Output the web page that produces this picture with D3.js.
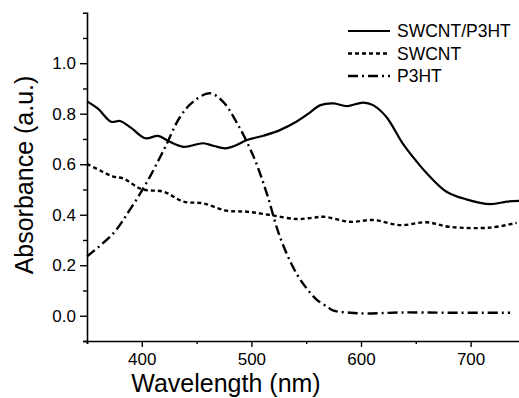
<!DOCTYPE html>
<html>
<head>
<meta charset="utf-8">
<script src="https://cdn.jsdelivr.net/npm/d3@7"></script>
<style>
  html, body { margin: 0; padding: 0; background: #fff; }
  svg { display: block; font-family: "Liberation Sans", Arial, sans-serif; }
</style>
</head>
<body>
<script>
// wavelength (nm) / absorbance (a.u.)
const hybridWl = [350, 360, 372, 380, 390, 403, 415, 425, 438, 456, 466, 476, 486, 496, 511, 526, 541, 552, 563, 575, 587, 602, 611, 623, 638, 650, 660, 678, 696, 718, 733, 745];
const hybridAbs = [0.849, 0.82, 0.768, 0.771, 0.745, 0.703, 0.712, 0.69, 0.669, 0.683, 0.672, 0.663, 0.675, 0.696, 0.713, 0.735, 0.768, 0.80, 0.834, 0.841, 0.830, 0.844, 0.834, 0.788, 0.683, 0.615, 0.564, 0.491, 0.461, 0.442, 0.452, 0.455];

const swcntWl = [350, 362, 374, 383, 400, 420, 438, 456, 477, 496, 517, 541, 556, 566, 590, 611, 636, 660, 681, 718, 742];
const swcntAbs = [0.601, 0.575, 0.551, 0.544, 0.501, 0.491, 0.452, 0.445, 0.416, 0.412, 0.399, 0.383, 0.388, 0.392, 0.372, 0.379, 0.359, 0.370, 0.352, 0.349, 0.368];

const p3htWl = [350, 374, 389, 404, 420, 435, 447, 462, 474, 487, 502, 514, 526, 541, 554, 560, 569, 575, 590, 605, 636, 681, 736];
const p3htAbs = [0.235, 0.326, 0.419, 0.524, 0.656, 0.788, 0.848, 0.881, 0.848, 0.762, 0.630, 0.485, 0.313, 0.168, 0.089, 0.062, 0.036, 0.020, 0.012, 0.009, 0.013, 0.012, 0.012];

const seriesNames = ["SWCNT/P3HT", "SWCNT", "P3HT"];
const dashes = [null, "4,3", "10,4,2,4"];

const xMajor = [400, 500, 600, 700];
const xMinor = [350, 450, 550, 650, 750];
const yMajor = [0.0, 0.2, 0.4, 0.6, 0.8, 1.0];
const yMinor = [-0.1, 0.1, 0.3, 0.5, 0.7, 0.9, 1.1];

const W = 519, H = 398;
const svg = d3.select("body").append("svg").attr("width", W).attr("height", H);

const x = d3.scaleLinear().domain([350, 750]).range([87, 525.4]);
const y = d3.scaleLinear().domain([-0.1, 1.2]).range([341, 12.7]);

const series = [
  hybridWl.map((d, i) => [d, hybridAbs[i]]),
  swcntWl.map((d, i) => [d, swcntAbs[i]]),
  p3htWl.map((d, i) => [d, p3htAbs[i]]),
];

// axes
const xAxis = svg.append("g").attr("transform", `translate(0,${y(-0.1)})`);
xAxis.call(d3.axisBottom(x).tickValues(xMajor).tickSize(6).tickFormat(d3.format("d")));
xAxis.append("g").call(d3.axisBottom(x).tickValues(xMinor).tickSize(3).tickFormat(""));

const yAxis = svg.append("g").attr("transform", `translate(${x(350)},0)`);
yAxis.call(d3.axisLeft(y).tickValues(yMajor).tickSize(7).tickFormat(d3.format(".1f")));
yAxis.append("g").call(d3.axisLeft(y).tickValues(yMinor).tickSize(4).tickFormat(""));

svg.selectAll(".domain").attr("stroke", "#000").attr("stroke-width", 1.6);
svg.selectAll(".tick line").attr("stroke", "#000").attr("stroke-width", 1.4);
svg.selectAll(".tick text").attr("fill", "#000").style("font-size", "17px")
  .style("font-family", "'Liberation Sans', Arial, sans-serif");
xAxis.selectAll(".tick text").attr("dy", "0.71em").attr("y", 12);
yAxis.selectAll(".tick text").attr("x", -11);
// hide the domain of the minor tick groups
xAxis.select("g .domain").remove();
yAxis.select("g .domain").remove();

// axis titles
svg.append("text")
  .attr("x", 226).attr("y", 392)
  .attr("text-anchor", "middle")
  .style("font-size", "25px")
  .text("Wavelength (nm)");

svg.append("text")
  .attr("transform", "translate(33,175) rotate(-90)")
  .attr("text-anchor", "middle")
  .style("font-size", "25px")
  .text("Absorbance (a.u.)");

// curves
const line = d3.line()
  .x((d) => x(d[0]))
  .y((d) => y(d[1]))
  .curve(d3.curveCatmullRom.alpha(0.5));

svg.append("g")
  .selectAll("path")
  .data(series)
  .join("path")
  .attr("d", line)
  .attr("fill", "none")
  .attr("stroke", "#000")
  .attr("stroke-width", (d, i) => (i === 0 ? 2.2 : 2.4))
  .attr("stroke-dasharray", (d, i) => dashes[i]);

// legend
const legend = svg.append("g");
const rows = legend.selectAll("g")
  .data(seriesNames)
  .join("g")
  .attr("transform", (d, i) => `translate(348,${31 + i * 22.5})`);
rows.append("line")
  .attr("x1", 0).attr("x2", 42)
  .attr("stroke", "#000")
  .attr("stroke-width", (d, i) => (i === 0 ? 2.2 : 2.6))
  .attr("stroke-dasharray", (d, i) => dashes[i]);
rows.append("text")
  .attr("x", 49).attr("dy", "0.36em")
  .style("font-size", "17.5px")
  .text((d) => d);
</script>
</body>
</html>
